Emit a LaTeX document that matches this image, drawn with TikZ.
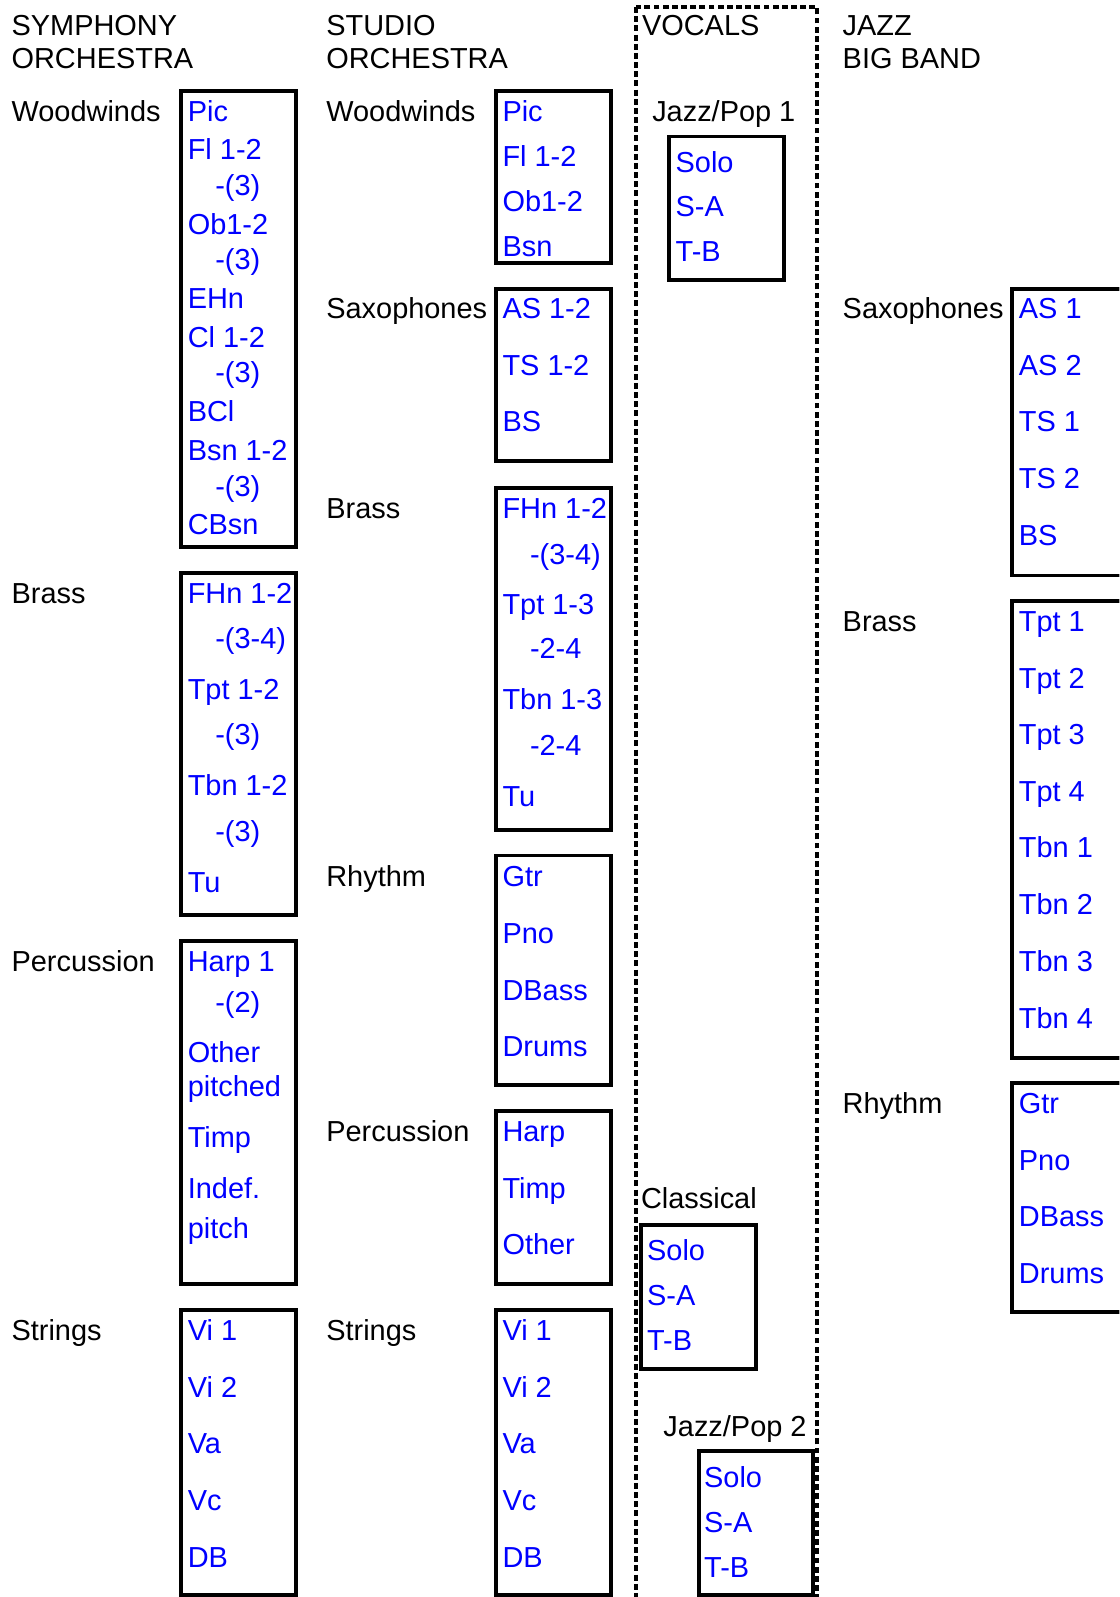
\documentclass[tikz,border=0pt]{standalone}
\usepackage{fontspec}
\setmainfont{Liberation Sans}
\begin{document}
\begin{tikzpicture}[x=0.5pt,y=-0.5pt,
  every node/.style={inner sep=0pt, anchor=base west, font=\fontsize{14.2pt}{17pt}\selectfont},
  lbl/.style={text=black},
  itm/.style={text=blue, xshift=0.5pt},
  box/.style={draw=black, line width=1.9pt},
  vocalframe/.style={draw=black, line width=1.9pt, dash pattern=on 2.9pt off 1.6pt}]
\useasboundingbox (0,0) rectangle (1099,1568);
\clip (0,0) rectangle (1099,1568);

% ---------------- SYMPHONY ORCHESTRA ----------------
\node[lbl] (symA) at (11,35) {SYMPHONY};
\node[lbl] (symB) at (11,67) {ORCHESTRA};
\node[lbl] (symWW) at (11,119) {Woodwinds};
\draw[box] (178,89.5) rectangle (291,537);
\foreach \t/\x/\y [count=\i] in {Pic/183/119, Fl 1-2/183/157, -(3)/210/192, Ob1-2/183/230, -(3)/210/265, EHn/183/303, Cl 1-2/183/341, -(3)/210/376, BCl/183/414, Bsn 1-2/183/452, -(3)/210/487, CBsn/183/525}
  \node[itm] (symWW\i) at (\x,\y) {\t};
\node[lbl] (symBr) at (11,593) {Brass};
\draw[box] (178,563) rectangle (291,898);
\foreach \t/\x/\y [count=\i] in {FHn 1-2/183/593, -(3-4)/210/637, Tpt 1-2/183/687, -(3)/210/731, Tbn 1-2/183/781, -(3)/210/826, Tu/183/876}
  \node[itm] (symBr\i) at (\x,\y) {\t};
\node[lbl] (symPc) at (11,954) {Percussion};
\draw[box] (178,924) rectangle (291,1261);
\foreach \t/\x/\y [count=\i] in {Harp 1/183/954, -(2)/210/994, Other/183/1043, pitched/183/1077, Timp/183/1127, Indef./183/1177, pitch/183/1216}
  \node[itm] (symPc\i) at (\x,\y) {\t};
\node[lbl] (symSt) at (11,1316) {Strings};
\draw[box] (178,1286) rectangle (291,1566);
\foreach \t/\y [count=\i] in {Vi 1/1316, Vi 2/1372, Va/1427, Vc/1483, DB/1539}
  \node[itm] (symSt\i) at (183,\y) {\t};

% ---------------- STUDIO ORCHESTRA ----------------
\node[lbl] (stuA) at (320,35) {STUDIO};
\node[lbl] (stuB) at (320,67) {ORCHESTRA};
\node[lbl] (stuWW) at (320,119) {Woodwinds};
\draw[box] (487,89.5) rectangle (600,258);
\foreach \t/\y [count=\i] in {Pic/119, Fl 1-2/163, Ob1-2/208, Bsn/252}
  \node[itm] (stuWW\i) at (492,\y) {\t};
\node[lbl] (stuSx) at (320,313) {Saxophones};
\draw[box] (487,284) rectangle (600,453);
\foreach \t/\y [count=\i] in {AS 1-2/313, TS 1-2/369, BS/424}
  \node[itm] (stuSx\i) at (492,\y) {\t};
\node[lbl] (stuBr) at (320,509) {Brass};
\draw[box] (487,479) rectangle (600,815);
\foreach \t/\x/\y [count=\i] in {FHn 1-2/492/509, -(3-4)/519/554, Tpt 1-3/492/603, -2-4/519/647, Tbn 1-3/492/697, -2-4/519/742, Tu/492/792}
  \node[itm] (stuBr\i) at (\x,\y) {\t};
\node[lbl] (stuRh) at (320,870) {Rhythm};
\draw[box] (487,840) rectangle (600,1065);
\foreach \t/\y [count=\i] in {Gtr/870, Pno/926, DBass/982, Drums/1037}
  \node[itm] (stuRh\i) at (492,\y) {\t};
\node[lbl] (stuPc) at (320,1121) {Percussion};
\draw[box] (487,1091) rectangle (600,1261);
\foreach \t/\y [count=\i] in {Harp/1121, Timp/1177, Other/1232}
  \node[itm] (stuPc\i) at (492,\y) {\t};
\node[lbl] (stuSt) at (320,1316) {Strings};
\draw[box] (487,1286) rectangle (600,1566);
\foreach \t/\y [count=\i] in {Vi 1/1316, Vi 2/1372, Va/1427, Vc/1483, DB/1539}
  \node[itm] (stuSt\i) at (492,\y) {\t};

% ---------------- VOCALS ----------------
\draw[vocalframe] (624.5,7) rectangle (802.5,1600);
\node[lbl] (voc) at (630,35) {VOCALS};
\node[lbl] (vjp1) at (640,119) {Jazz/Pop 1};
\draw[box] (657,134) rectangle (770,275);
\foreach \t/\y [count=\i] in {Solo/169, S-A/213, T-B/257}
  \node[itm] (vjpA\i) at (662,\y) {\t};
\node[lbl] (vcl) at (629,1187) {Classical};
\draw[box] (629,1203) rectangle (742,1344);
\foreach \t/\y [count=\i] in {Solo/1238, S-A/1282, T-B/1326}
  \node[itm] (vcl\i) at (634,\y) {\t};
\node[lbl] (vjp2) at (651,1410) {Jazz/Pop 2};
\draw[box] (686,1425) rectangle (798,1566);
\foreach \t/\y [count=\i] in {Solo/1460, S-A/1505, T-B/1549}
  \node[itm] (vjpB\i) at (690,\y) {\t};

% ---------------- JAZZ BIG BAND ----------------
\node[lbl] (jzA) at (827,35) {JAZZ};
\node[lbl] (jzB) at (827,67) {BIG BAND};
\node[lbl] (jzSx) at (827,313) {Saxophones};
\draw[box] (994,284) rectangle (1130,565);
\foreach \t/\y [count=\i] in {AS 1/313, AS 2/369, TS 1/424, TS 2/480, BS/536}
  \node[itm] (jzSx\i) at (999,\y) {\t};
\node[lbl] (jzBr) at (827,620) {Brass};
\draw[box] (994,590) rectangle (1130,1039);
\foreach \t/\y [count=\i] in {Tpt 1/620, Tpt 2/676, Tpt 3/731, Tpt 4/787, Tbn 1/842, Tbn 2/898, Tbn 3/954, Tbn 4/1010}
  \node[itm] (jzBr\i) at (999,\y) {\t};
\node[lbl] (jzRh) at (827,1093) {Rhythm};
\draw[box] (994,1063) rectangle (1130,1288);
\foreach \t/\y [count=\i] in {Gtr/1093, Pno/1149, DBass/1204, Drums/1260}
  \node[itm] (jzRh\i) at (999,\y) {\t};
\end{tikzpicture}
\end{document}
